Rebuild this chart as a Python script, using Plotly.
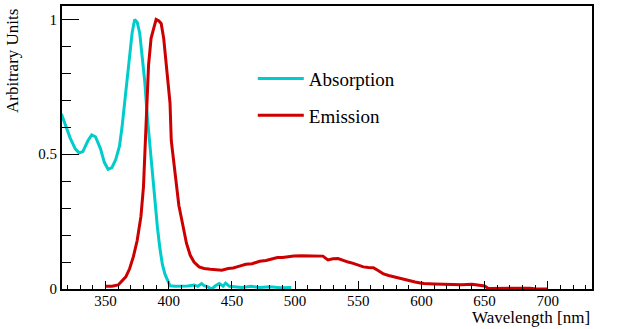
import plotly.graph_objects as go

# Absorption spectrum (cyan)
abs_wl = [315, 318, 322, 326, 329, 332, 336, 339, 342, 346, 349, 352, 355, 358, 361, 363,
          365, 367, 369, 371, 373, 375, 377, 379, 381, 383, 385, 387, 389, 391, 393, 395,
          397, 399, 401, 405, 410, 415, 420, 423, 426, 428, 431, 434, 437, 440, 443, 445,
          448, 452, 458, 465, 472, 480, 488, 497]
abs_val = [0.65, 0.61, 0.56, 0.52, 0.505, 0.51, 0.55, 0.572, 0.565, 0.52, 0.47, 0.444, 0.45, 0.48, 0.53, 0.6,
           0.69, 0.78, 0.87, 0.95, 1.0, 0.99, 0.95, 0.87, 0.77, 0.64, 0.53, 0.45, 0.33, 0.23, 0.15, 0.09,
           0.055, 0.03, 0.012, 0.01, 0.01, 0.011, 0.015, 0.01, 0.02, 0.012, 0.008, 0.0, 0.012, 0.02, 0.01, 0.022,
           0.01, 0.008, 0.006, 0.01, 0.006, 0.008, 0.005, 0.006]

# Emission spectrum (red)
em_wl = [350, 355, 360, 363, 366, 369, 372, 375, 378, 380, 382, 384, 386, 388, 390, 392,
         394, 396, 398, 400, 401, 402, 404, 406, 408, 411, 414, 417, 420, 424, 428, 433,
         438, 442, 447, 451, 456, 461, 466, 472, 477, 482, 486, 490, 495, 499, 505, 512,
         518, 522, 526, 530, 534, 538, 542, 546, 550, 554, 558, 562, 566, 570, 574, 578,
         583, 587, 591, 595, 599, 602, 610, 618, 625, 632, 640, 646, 650, 653, 658, 665,
         672, 680, 686, 691, 700]
em_val = [0.01, 0.01, 0.015, 0.03, 0.045, 0.075, 0.12, 0.18, 0.27, 0.38, 0.6, 0.83, 0.93, 0.97, 1.0, 0.995,
          0.985, 0.93, 0.84, 0.74, 0.69, 0.55, 0.47, 0.37, 0.31, 0.24, 0.17, 0.125, 0.1, 0.082, 0.076, 0.073,
          0.072, 0.07, 0.076, 0.078, 0.085, 0.092, 0.094, 0.103, 0.106, 0.112, 0.117, 0.117, 0.12, 0.122, 0.123, 0.123,
          0.122, 0.122, 0.108, 0.112, 0.113, 0.106, 0.1, 0.095, 0.088, 0.082, 0.08, 0.079, 0.068, 0.056, 0.05, 0.045,
          0.04, 0.035, 0.031, 0.026, 0.022, 0.02, 0.019, 0.018, 0.017, 0.016, 0.018, 0.015, 0.011, 0.002, 0.002, 0.003,
          0.003, 0.004, 0.003, 0.0, 0.0]

serif = "Liberation Serif, Times New Roman, serif"

fig = go.Figure()
fig.add_trace(go.Scatter(x=abs_wl, y=abs_val, mode="lines", name="Absorption",
                         legendgroup="a", line=dict(color="#00CCCC", width=3)))
fig.add_trace(go.Scatter(x=em_wl, y=em_val, mode="lines", name="Emission",
                         legendgroup="e", line=dict(color="#CC0000", width=3)))

axis_common = dict(showline=True, linecolor="black", linewidth=2, mirror=True,
                   showgrid=False, zeroline=False, ticks="inside", tickcolor="black",
                   tickwidth=1, tickfont=dict(family=serif, size=15, color="black"))

fig.update_xaxes(range=[315.5, 735], tick0=350, dtick=50, ticklen=8, ticklabelstandoff=-3,
                 minor=dict(ticks="inside", dtick=10, ticklen=4, tickcolor="black"),
                 **axis_common)
fig.update_yaxes(range=[0, 1.05], tick0=0, dtick=0.5, ticklen=17,
                 minor=dict(ticks="inside", dtick=0.1, ticklen=9, tickcolor="black"),
                 **axis_common)

fig.update_layout(
    width=623, height=329,
    margin=dict(l=62, r=31, t=4, b=40),
    plot_bgcolor="white", paper_bgcolor="white",
    font=dict(family=serif, size=17, color="black"),
    legend=dict(x=0.36, y=0.81, xanchor="left", yanchor="top", bgcolor="rgba(0,0,0,0)",
                font=dict(family=serif, size=19), tracegroupgap=9, itemwidth=46),
    annotations=[
        dict(text="Wavelength [nm]", xref="paper", yref="paper", x=1, y=-0.102,
             xanchor="right", yanchor="middle", showarrow=False,
             font=dict(family=serif, size=17)),
        dict(text="Arbitrary Units", xref="paper", yref="paper", x=-0.0925, y=0.9965,
             xanchor="center", yanchor="top", textangle=-90, showarrow=False,
             font=dict(family=serif, size=17)),
    ],
)

# drop the default page margin so the figure sits at the window's corner
fig.write_html("out.html", config={"displayModeBar": False},
               post_script="document.body.style.margin='0';")
